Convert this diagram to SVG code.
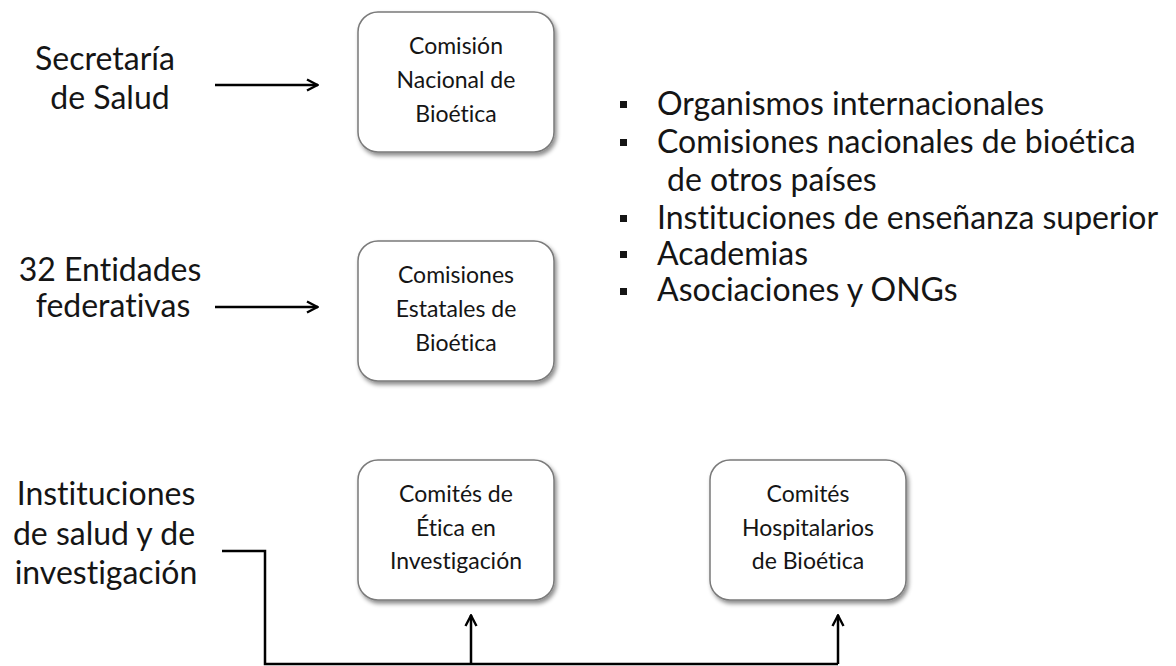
<svg xmlns="http://www.w3.org/2000/svg" width="1176" height="666" viewBox="0 0 1176 666">
<style>
.t{font-family:Lato,"Open Sans","Liberation Sans",sans-serif;fill:#151515;font-variant-ligatures:none;font-feature-settings:"liga" 0,"clig" 0;}
.lbl{font-size:32px;text-anchor:middle;}
.box{fill:#fff;stroke:#7a7a7a;stroke-width:1.5;filter:url(#sh);}
.bt{font-size:23px;text-anchor:middle;}
.li{font-size:32px;}
.conn{fill:none;stroke:#000;stroke-width:2.5;}
</style>
<defs>
<filter id="sh" x="-10%" y="-10%" width="130%" height="130%">
<feDropShadow dx="2" dy="3" stdDeviation="2" flood-color="#000" flood-opacity="0.45"/>
</filter>
<marker id="ah" viewBox="0 0 14 14" refX="13" refY="7" markerWidth="14" markerHeight="14" markerUnits="userSpaceOnUse" orient="auto">
<path d="M2,1.5 L12.5,7 L2,12.5" fill="none" stroke="#000" stroke-width="2.4"/>
</marker>
</defs>
<g id="src-secretaria">
<text class="t lbl" x="105" y="70">Secretaría</text>
<text class="t lbl" x="110" y="109">de Salud</text>
</g>
<g id="src-entidades">
<text class="t lbl" x="110" y="281">32 Entidades</text>
<text class="t lbl" x="113" y="317">federativas</text>
</g>
<g id="src-instituciones">
<text class="t lbl" x="106" y="505">Instituciones</text>
<text class="t lbl" x="104" y="545">de salud y de</text>
<text class="t lbl" x="106" y="584">investigación</text>
</g>
<g id="conabioetica">
<rect class="box" x="358" y="12" width="196" height="140" rx="20"/>
<text class="t bt" x="456" y="54">Comisión</text>
<text class="t bt" x="456" y="88">Nacional de</text>
<text class="t bt" x="456" y="122">Bioética</text>
</g>
<g id="comisiones-estatales">
<rect class="box" x="358" y="241" width="196" height="140" rx="20"/>
<text class="t bt" x="456" y="283">Comisiones</text>
<text class="t bt" x="456" y="317">Estatales de</text>
<text class="t bt" x="456" y="351">Bioética</text>
</g>
<g id="comites-etica">
<rect class="box" x="358" y="460" width="196" height="140" rx="20"/>
<text class="t bt" x="456" y="502">Comités de</text>
<text class="t bt" x="456" y="536">Ética en</text>
<text class="t bt" x="456" y="569">Investigación</text>
</g>
<g id="comites-hospitalarios">
<rect class="box" x="710" y="460" width="196" height="140" rx="20"/>
<text class="t bt" x="808" y="502">Comités</text>
<text class="t bt" x="808" y="536">Hospitalarios</text>
<text class="t bt" x="808" y="569">de Bioética</text>
</g>
<g id="lista">
<rect x="620" y="101" width="7" height="7" fill="#151515"/>
<rect x="620" y="139" width="7" height="7" fill="#151515"/>
<rect x="620" y="215" width="7" height="7" fill="#151515"/>
<rect x="620" y="251" width="7" height="7" fill="#151515"/>
<rect x="620" y="288" width="7" height="7" fill="#151515"/>
<text class="t li" x="657" y="115">Organismos internacionales</text>
<text class="t li" x="657" y="153">Comisiones nacionales de bioética</text>
<text class="t li" x="667" y="191">de otros países</text>
<text class="t li" x="657" y="229">Instituciones de enseñanza superior</text>
<text class="t li" x="657" y="265">Academias</text>
<text class="t li" x="657" y="301">Asociaciones y ONGs</text>
</g>
<g id="connectors">
<line class="conn" x1="215" y1="85" x2="318" y2="85" marker-end="url(#ah)"/>
<line class="conn" x1="215" y1="307" x2="318" y2="307" marker-end="url(#ah)"/>
<polyline class="conn" points="222,551 265,551 265,664 838,664"/>
<line class="conn" x1="471" y1="664" x2="471" y2="615" marker-end="url(#ah)"/>
<line class="conn" x1="838" y1="664" x2="838" y2="615" marker-end="url(#ah)"/>
</g>
</svg>
